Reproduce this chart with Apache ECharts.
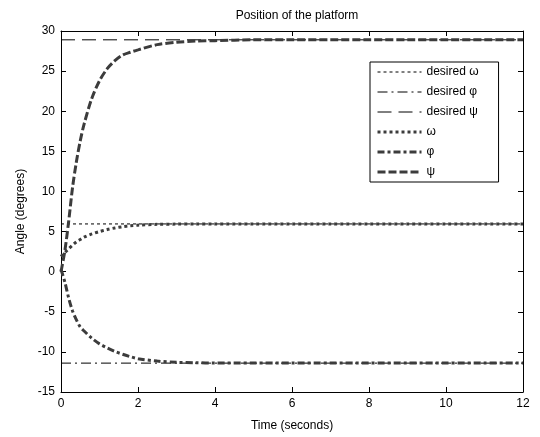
<!DOCTYPE html>
<html>
<head>
<meta charset="utf-8">
<script src="https://cdn.jsdelivr.net/npm/echarts@6/dist/echarts.min.js"></script>
<style>html,body{margin:0;padding:0;background:#fff;}#c{width:540px;height:437px;}</style>
</head>
<body>
<div id="c"></div>
<script>
// Time samples (seconds)
const timeS = [0,0.1,0.2,0.3,0.4,0.5,0.6,0.8,1.0,1.2,1.4,1.6,1.8,2.0,2.5,3.0,3.5,4.0,5,6,7,8,9,10,11,12];
// Measured angles (degrees)
const omega = [1.9,2.4,2.85,3.3,3.7,4.0,4.3,4.7,5.0,5.25,5.45,5.6,5.72,5.8,5.9,5.93,5.95,5.95,5.95,5.95,5.95,5.95,5.95,5.95,5.95,5.95];
const phi   = [0.3,-1.3,-3.3,-4.9,-6.0,-6.9,-7.4,-8.3,-9.0,-9.5,-9.95,-10.3,-10.6,-10.85,-11.15,-11.3,-11.35,-11.4,-11.4,-11.4,-11.4,-11.4,-11.4,-11.4,-11.4,-11.4];
const psi   = [0,2.6,6.3,10.5,13.7,16.3,18.4,21.6,23.8,25.3,26.3,27.0,27.35,27.65,28.3,28.6,28.75,28.8,28.9,28.9,28.9,28.9,28.9,28.9,28.9,28.9];
// Desired angles (degrees)
const desiredOmega = 5.95;
const desiredPhi = -11.4;
const desiredPsi = 28.9;
const desiredT = [0, 12];
const seriesNames = ['desired \u03c9','desired \u03c6','desired \u03c8','\u03c9','\u03c6','\u03c8'];

const pair = (ts, vs) => ts.map((t, i) => [t, vs[i]]);
const flat = (v) => desiredT.map(t => [t, v]);

const FONT = 'Liberation Sans';
const THICK = '#3c3c3c';
const dashes = [[3, 3], [10, 4, 2, 4], [14, 7], [3, 3], [7, 3, 3, 3], [8, 3]];
const widths = [1, 1, 1, 3, 3, 3];
const colors = ['#000', '#000', '#000', THICK, THICK, THICK];

const mkSeries = (i, data) => ({
  name: seriesNames[i], type: 'line', data, symbol: 'none', showSymbol: false,
  smooth: i >= 3 ? 0.3 : false, silent: true,
  lineStyle: { color: colors[i], width: widths[i], type: dashes[i], cap: 'butt' },
  itemStyle: { color: colors[i] }, z: i >= 3 ? 3 : 2
});

const chart = echarts.init(document.getElementById('c'), null, { renderer: 'canvas' });
const axisCommon = {
  axisLine: { show: true, onZero: false, lineStyle: { color: '#000', width: 1 } },
  axisTick: { show: true, inside: true, length: 5, lineStyle: { color: '#000' } },
  splitLine: { show: false }
};
chart.setOption({
  animation: false,
  backgroundColor: '#fff',
  textStyle: { fontFamily: FONT },
  title: {
    text: 'Position of the platform', left: 292, top: 5, textAlign: 'center',
    textStyle: { fontFamily: FONT, fontSize: 12, fontWeight: 'normal', color: '#000' }
  },
  grid: { left: 61, right: 17, top: 31, bottom: 42 },
  legend: {
    orient: 'vertical', left: 370, top: 62,
    data: seriesNames.map((n, i) => ({
      name: n,
      lineStyle: { color: colors[i], width: widths[i], type: dashes[i], cap: 'butt' },
      itemStyle: { color: 'rgba(0,0,0,0)', borderWidth: 0, opacity: 0 }
    })),
    itemWidth: 44, itemHeight: 14, itemGap: 8,
    padding: [4, 20, 4, 6],
    borderColor: '#000', borderWidth: 1, backgroundColor: '#fff',
    textStyle: { fontFamily: FONT, fontSize: 12, color: '#000' }
  },
  xAxis: [
    Object.assign({
      type: 'value', min: 0, max: 12, interval: 2, position: 'bottom',
      name: 'Time (seconds)', nameLocation: 'middle', nameGap: 28,
      nameTextStyle: { fontFamily: FONT, fontSize: 12, color: '#000' },
      axisLabel: { color: '#000', fontSize: 12, fontFamily: FONT, margin: 6 }
    }, axisCommon),
    Object.assign({
      type: 'value', min: 0, max: 12, interval: 2, position: 'top',
      axisLabel: { show: false }
    }, axisCommon)
  ],
  yAxis: [
    Object.assign({
      type: 'value', min: -15, max: 30, interval: 5, position: 'left',
      name: 'Angle (degrees)', nameLocation: 'middle', nameGap: 33, nameRotate: 90,
      nameTextStyle: { fontFamily: FONT, fontSize: 12, color: '#000' },
      axisLabel: { color: '#000', fontSize: 12, fontFamily: FONT, margin: 6 }
    }, axisCommon),
    Object.assign({
      type: 'value', min: -15, max: 30, interval: 5, position: 'right',
      axisLabel: { show: false }
    }, axisCommon)
  ],
  series: [
    mkSeries(0, flat(desiredOmega)),
    mkSeries(1, flat(desiredPhi)),
    mkSeries(2, flat(desiredPsi)),
    mkSeries(3, pair(timeS, omega)),
    mkSeries(4, pair(timeS, phi)),
    mkSeries(5, pair(timeS, psi))
  ]
});
</script>
</body>
</html>
